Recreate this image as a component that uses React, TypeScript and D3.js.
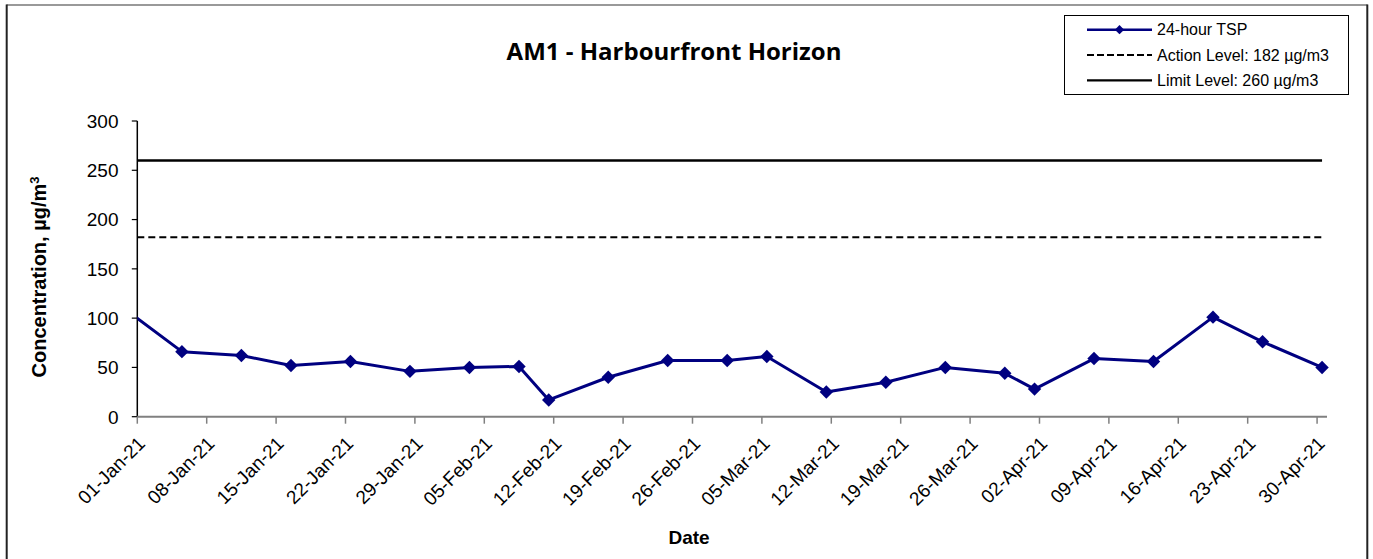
import { useEffect, useRef } from 'react';
import * as d3 from 'd3';

const sampleDates = [
    "2020-12-30T12:00", "2021-01-05T12:00", "2021-01-11T12:00", "2021-01-16T12:00",
    "2021-01-22T12:00", "2021-01-28T12:00", "2021-02-03T12:00", "2021-02-08T12:00",
    "2021-02-11T12:00", "2021-02-17T12:00", "2021-02-23T12:00", "2021-03-01T12:00",
    "2021-03-05T12:00", "2021-03-11T12:00", "2021-03-17T12:00", "2021-03-23T12:00",
    "2021-03-29T12:00", "2021-04-01T12:00", "2021-04-07T12:00", "2021-04-13T12:00",
    "2021-04-19T12:00", "2021-04-24T12:00", "2021-04-30T12:00"
];
const tspValues = [
    111, 66, 62, 52, 56, 46, 50, 51, 17, 40, 57, 57, 61, 25, 35, 50, 44, 28, 59, 56, 101, 76, 50
];
const tickLabels = [
    "01-Jan-21", "08-Jan-21", "15-Jan-21", "22-Jan-21", "29-Jan-21", "05-Feb-21",
    "12-Feb-21", "19-Feb-21", "26-Feb-21", "05-Mar-21", "12-Mar-21", "19-Mar-21",
    "26-Mar-21", "02-Apr-21", "09-Apr-21", "16-Apr-21", "23-Apr-21", "30-Apr-21"
];
const yTicks = [0, 50, 100, 150, 200, 250, 300];
const actionLevel = 182;
const limitLevel = 260;
const legendLabels = ["24-hour TSP", "Action Level: 182 µg/m3", "Limit Level: 260 µg/m3"];

const FONT = "'Liberation Sans', Arial, sans-serif";
const NAVY = "#000080";

const Chart = () => {
    const ref = useRef<SVGSVGElement | null>(null);

    useEffect(() => {
        const width = 1373;
        const height = 559;
        const left = 137.3;
        const right = 1327;
        const top = 121;
        const bottom = 416.7;

        const parse = d3.timeParse("%Y-%m-%dT%H:%M");
        const parseTick = d3.timeParse("%d-%b-%y");
        const dates = sampleDates.map(d => parse(d) as Date);
        const ticks = tickLabels.map(d => parseTick(d) as Date);
        const data = dates.map((d, i) => ({ date: d, value: tspValues[i] }));

        const x = d3.scaleTime()
            .domain([new Date(2021, 0, 1), new Date(2021, 4, 1)])
            .range([left, right]);
        const y = d3.scaleLinear().domain([0, 300]).range([bottom, top]);

        const svg = d3.select(ref.current)
            .attr("width", width)
            .attr("height", height)
            .attr("viewBox", [0, 0, width, height].join(" "));
        svg.selectAll("*").remove();

        svg.append("rect").attr("width", width).attr("height", height).attr("fill", "#fff");

        // outer frame
        svg.append("line").attr("x1", 6.5).attr("x2", 1367.5).attr("y1", 5).attr("y2", 5)
            .attr("stroke", "#777").attr("stroke-width", 1.5);
        svg.append("line").attr("x1", 6.7).attr("x2", 6.7).attr("y1", 4.5).attr("y2", 560)
            .attr("stroke", "#222").attr("stroke-width", 2);
        svg.append("line").attr("x1", 1367.3).attr("x2", 1367.3).attr("y1", 4.5).attr("y2", 560)
            .attr("stroke", "#222").attr("stroke-width", 2);

        // title
        svg.append("text")
            .attr("x", 674).attr("y", 60)
            .attr("text-anchor", "middle")
            .attr("font-family", "'Open Sans', Carlito, sans-serif")
            .attr("font-weight", "bold")
            .attr("font-size", 24)
            .text("AM1 - Harbourfront Horizon");

        // y axis
        const yAxis = svg.append("g").attr("font-family", FONT);
        yAxis.append("line").attr("x1", left).attr("x2", left).attr("y1", top).attr("y2", bottom)
            .attr("stroke", "#000").attr("stroke-width", 1.5);
        yAxis.selectAll(".yt").data(yTicks).join("line")
            .attr("x1", left - 5.5).attr("x2", left)
            .attr("y1", d => y(d)).attr("y2", d => y(d))
            .attr("stroke", "#000").attr("stroke-width", 1.2);
        yAxis.selectAll(".yl").data(yTicks).join("text")
            .attr("x", 118.5).attr("y", d => y(d))
            .attr("dy", "0.36em")
            .attr("text-anchor", "end")
            .attr("font-size", 19)
            .text(d => d);

        const yTitle = svg.append("text")
            .attr("transform", "translate(46,277) rotate(-90)")
            .attr("text-anchor", "middle")
            .attr("font-family", FONT)
            .attr("font-weight", "bold")
            .attr("font-size", 20);
        yTitle.append("tspan").text("Concentration, µg/m");
        yTitle.append("tspan").attr("font-size", 13).attr("dy", -7).text("3");

        // x axis
        const xAxis = svg.append("g").attr("font-family", FONT);
        xAxis.append("line").attr("x1", left).attr("x2", right).attr("y1", bottom).attr("y2", bottom)
            .attr("stroke", "#808080").attr("stroke-width", 2);
        xAxis.selectAll(".xt").data(ticks).join("line")
            .attr("x1", d => x(d)).attr("x2", d => x(d))
            .attr("y1", bottom).attr("y2", bottom + 7)
            .attr("stroke", "#808080").attr("stroke-width", 1.5);
        xAxis.selectAll(".xl").data(ticks).join("text")
            .attr("transform", d => `translate(${x(d) + 9},${bottom + 28}) rotate(-45)`)
            .attr("text-anchor", "end")
            .attr("font-size", 19)
            .text((d, i) => tickLabels[i]);

        svg.append("text")
            .attr("x", 689).attr("y", 544)
            .attr("text-anchor", "middle")
            .attr("font-family", FONT)
            .attr("font-weight", "bold")
            .attr("font-size", 19)
            .text("Date");

        // reference levels
        const lastDate = dates[dates.length - 1];
        svg.append("line")
            .attr("x1", left).attr("x2", x(lastDate))
            .attr("y1", y(limitLevel)).attr("y2", y(limitLevel))
            .attr("stroke", "#000").attr("stroke-width", 2.5);
        svg.append("line")
            .attr("x1", left).attr("x2", x(lastDate))
            .attr("y1", y(actionLevel)).attr("y2", y(actionLevel))
            .attr("stroke", "#000").attr("stroke-width", 2)
            .attr("stroke-dasharray", "7 4");

        // series
        svg.append("clipPath").attr("id", "plot-clip")
            .append("rect").attr("x", left).attr("y", 0).attr("width", width - left).attr("height", height);

        const line = d3.line<{ date: Date; value: number }>()
            .x(d => x(d.date))
            .y(d => y(d.value));

        const series = svg.append("g").attr("clip-path", "url(#plot-clip)");
        series.append("path")
            .datum(data)
            .attr("d", line)
            .attr("fill", "none")
            .attr("stroke", NAVY)
            .attr("stroke-width", 3)
            .attr("stroke-linejoin", "round");

        const diamond = d3.symbol().type(d3.symbolDiamond2).size(115);
        series.selectAll(".pt").data(data).join("path")
            .attr("transform", d => `translate(${x(d.date)},${y(d.value)})`)
            .attr("d", diamond)
            .attr("fill", NAVY);

        // legend
        const lg = svg.append("g").attr("font-family", FONT).attr("font-size", 16);
        lg.append("rect")
            .attr("x", 1064.5).attr("y", 15.5).attr("width", 284).attr("height", 79)
            .attr("fill", "#fff").attr("stroke", "#000").attr("stroke-width", 1);
        const rowY = [29.7, 55, 80.3];
        legendLabels.forEach((label, i) => {
            const yy = rowY[i];
            const l = lg.append("line")
                .attr("x1", 1087).attr("x2", 1152).attr("y1", yy).attr("y2", yy)
                .attr("stroke", i === 0 ? NAVY : "#000")
                .attr("stroke-width", i === 0 ? 2.5 : 2.2);
            if (i === 1) l.attr("stroke-dasharray", "7 3");
            if (i === 0) {
                lg.append("path")
                    .attr("transform", `translate(1119.5,${yy})`)
                    .attr("d", d3.symbol().type(d3.symbolDiamond2).size(55)())
                    .attr("fill", NAVY);
            }
            lg.append("text")
                .attr("x", 1157).attr("y", yy)
                .attr("dy", "0.36em")
                .text(label);
        });
    }, []);

    return <svg ref={ref} style={{ position: "absolute", left: 0, top: 0, display: "block" }} />;
};

export default function App() {
    return <Chart />;
}
